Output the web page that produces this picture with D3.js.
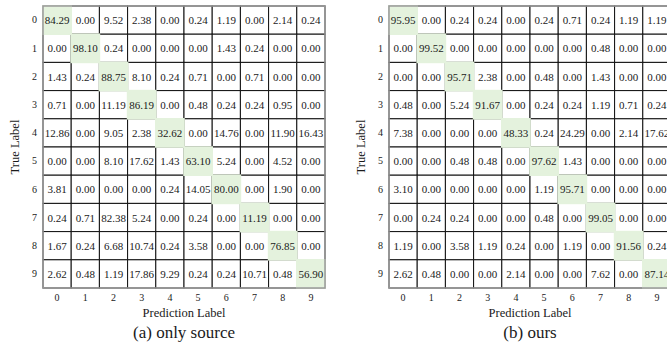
<!DOCTYPE html>
<html>
<head>
<meta charset="utf-8">
<script src="https://cdn.jsdelivr.net/npm/d3@7"></script>
<style>
  html, body { margin: 0; padding: 0; background: #fff; }
  svg { display: block; }
</style>
</head>
<body>
<svg id="chart" width="667" height="351"></svg>
<script>
const classes = ["0","1","2","3","4","5","6","7","8","9"];

const onlySource = [
  [84.29, 0.00, 9.52, 2.38, 0.00, 0.24, 1.19, 0.00, 2.14, 0.24],
  [0.00, 98.10, 0.24, 0.00, 0.00, 0.00, 1.43, 0.24, 0.00, 0.00],
  [1.43, 0.24, 88.75, 8.10, 0.24, 0.71, 0.00, 0.71, 0.00, 0.00],
  [0.71, 0.00, 11.19, 86.19, 0.00, 0.48, 0.24, 0.24, 0.95, 0.00],
  [12.86, 0.00, 9.05, 2.38, 32.62, 0.00, 14.76, 0.00, 11.90, 16.43],
  [0.00, 0.00, 8.10, 17.62, 1.43, 63.10, 5.24, 0.00, 4.52, 0.00],
  [3.81, 0.00, 0.00, 0.00, 0.24, 14.05, 80.00, 0.00, 1.90, 0.00],
  [0.24, 0.71, 82.38, 5.24, 0.00, 0.24, 0.00, 11.19, 0.00, 0.00],
  [1.67, 0.24, 6.68, 10.74, 0.24, 3.58, 0.00, 0.00, 76.85, 0.00],
  [2.62, 0.48, 1.19, 17.86, 9.29, 0.24, 0.24, 10.71, 0.48, 56.90]
];

const ours = [
  [95.95, 0.00, 0.24, 0.24, 0.00, 0.24, 0.71, 0.24, 1.19, 1.19],
  [0.00, 99.52, 0.00, 0.00, 0.00, 0.00, 0.00, 0.48, 0.00, 0.00],
  [0.00, 0.00, 95.71, 2.38, 0.00, 0.48, 0.00, 1.43, 0.00, 0.00],
  [0.48, 0.00, 5.24, 91.67, 0.00, 0.24, 0.24, 1.19, 0.71, 0.24],
  [7.38, 0.00, 0.00, 0.00, 48.33, 0.24, 24.29, 0.00, 2.14, 17.62],
  [0.00, 0.00, 0.48, 0.48, 0.00, 97.62, 1.43, 0.00, 0.00, 0.00],
  [3.10, 0.00, 0.00, 0.00, 0.00, 1.19, 95.71, 0.00, 0.00, 0.00],
  [0.00, 0.24, 0.24, 0.00, 0.00, 0.48, 0.00, 99.05, 0.00, 0.00],
  [1.19, 0.00, 3.58, 1.19, 0.24, 0.00, 1.19, 0.00, 91.56, 0.24],
  [2.62, 0.48, 0.00, 0.00, 2.14, 0.00, 0.00, 7.62, 0.00, 87.14]
];

const captions = ["(a) only source", "(b) ours"];
const xTitle = "Prediction Label";
const yTitle = "True Label";

const FONT = "'Liberation Serif', 'Times New Roman', Times, 'DejaVu Serif', serif";
const svg = d3.select("#chart").style("font-family", FONT);
const size = 282;
const topY = 6;
const lefts = [43, 389];
const GREEN = "#e4f2dd";
const INK = "#1a1a1a";

function drawMatrix(data, left, caption) {
  const g = svg.append("g").attr("transform", `translate(${left},${topY})`);
  const x = d3.scaleBand().domain(classes).range([0, size]);
  const y = d3.scaleBand().domain(classes).range([0, size]);

  const cells = [];
  data.forEach((row, i) => row.forEach((v, j) => cells.push({i, j, v})));

  g.selectAll("rect.cell").data(cells).join("rect")
    .attr("class", "cell")
    .attr("x", d => x(classes[d.j]))
    .attr("y", d => y(classes[d.i]))
    .attr("width", x.bandwidth())
    .attr("height", y.bandwidth())
    .attr("fill", "#fff")
    .attr("stroke", "#111")
    .attr("stroke-width", 1);

  g.selectAll("rect.diag").data(cells.filter(d => d.i === d.j)).join("rect")
    .attr("class", "diag")
    .attr("x", d => x(classes[d.j]) - 0.8)
    .attr("y", d => y(classes[d.i]) - 0.8)
    .attr("width", x.bandwidth() + 1.6)
    .attr("height", y.bandwidth() + 1.6)
    .attr("fill", GREEN);

  g.selectAll("text.val").data(cells).join("text")
    .attr("class", "val")
    .attr("x", d => x(classes[d.j]) + x.bandwidth() / 2)
    .attr("y", d => y(classes[d.i]) + y.bandwidth() / 2)
    .attr("text-anchor", "middle")
    .attr("dominant-baseline", "central")
    .style("font-family", FONT)
    .style("font-size", "11px")
    .style("fill", INK)
    .text(d => d.v.toFixed(2));

  g.append("rect")
    .attr("x", 0).attr("y", 0)
    .attr("width", size).attr("height", size)
    .attr("fill", "none")
    .attr("stroke", "#9a9a9a")
    .attr("stroke-width", 1.5);

  const xAxis = d3.axisBottom(x).tickSize(0).tickPadding(6);
  const gx = g.append("g").attr("transform", `translate(0,${size})`).call(xAxis);
  gx.attr("font-family", null);
  gx.select(".domain").remove();
  gx.selectAll("text").style("font-size", "10px").style("font-family", FONT).style("fill", INK);

  const yAxis = d3.axisLeft(y).tickSize(0).tickPadding(6);
  const gy = g.append("g").call(yAxis);
  gy.attr("font-family", null);
  gy.select(".domain").remove();
  gy.selectAll("text").style("font-size", "10px").style("font-family", FONT).style("fill", INK);

  g.append("text")
    .attr("x", size / 2).attr("y", size + 25)
    .attr("text-anchor", "middle")
    .attr("dominant-baseline", "central")
    .style("font-family", FONT)
    .style("font-size", "12.5px")
    .style("fill", INK)
    .text(xTitle);

  g.append("text")
    .attr("transform", `translate(-28,${size / 2}) rotate(-90)`)
    .attr("text-anchor", "middle")
    .attr("dominant-baseline", "central")
    .style("font-family", FONT)
    .style("font-size", "12.5px")
    .style("fill", INK)
    .text(yTitle);

  g.append("text")
    .attr("x", size / 2).attr("y", size + 44)
    .attr("text-anchor", "middle")
    .attr("dominant-baseline", "central")
    .style("font-family", FONT)
    .style("font-size", "17px")
    .style("fill", INK)
    .text(caption);
}

drawMatrix(onlySource, lefts[0], captions[0]);
drawMatrix(ours, lefts[1], captions[1]);
</script>
</body>
</html>
